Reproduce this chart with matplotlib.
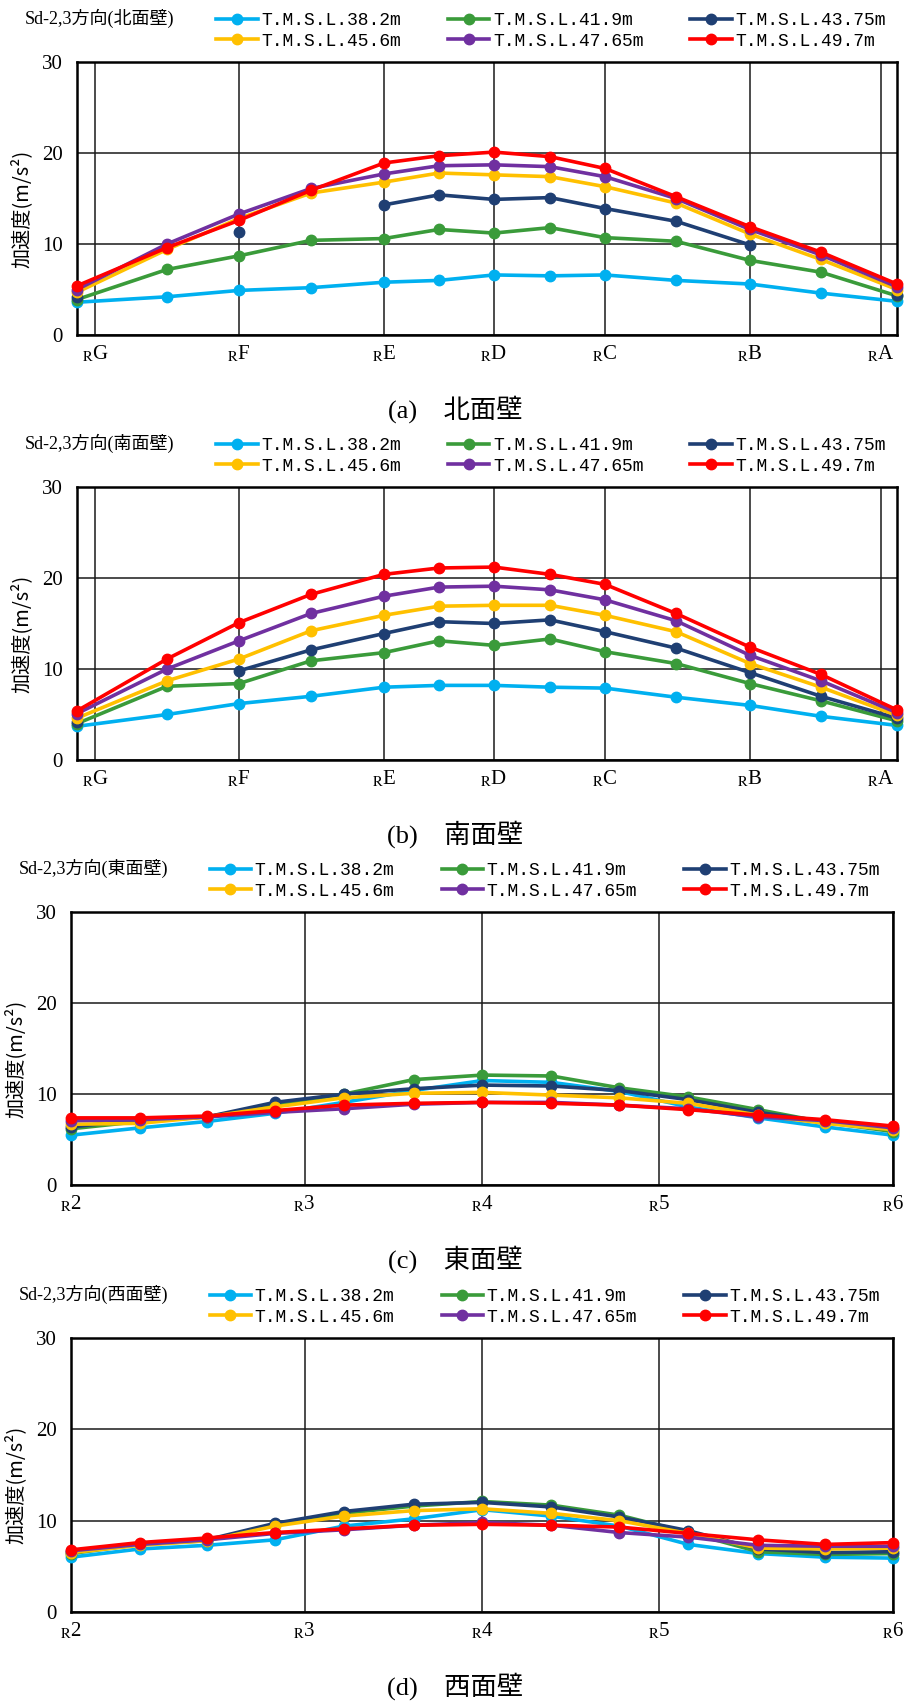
import numpy as np
import matplotlib.pyplot as plt

nan = np.nan

plt.rcParams['font.family'] = ['Liberation Serif', 'Noto Sans CJK JP', 'DejaVu Sans']
plt.rcParams['mathtext.fontset'] = 'stix'

series_names = ['T.M.S.L.38.2m', 'T.M.S.L.41.9m', 'T.M.S.L.43.75m',
                'T.M.S.L.45.6m', 'T.M.S.L.47.65m', 'T.M.S.L.49.7m']
colors = ['#00B0F0', '#3A9B3A', '#1F3F73', '#FFC000', '#7030A0', '#FF0000']

# measuring points along the wall (north/south walls: G..A, east/west walls: 2..6)
pos_ns = [0, 9.0, 16.2, 23.4, 30.7, 36.2, 41.7, 47.3, 52.8, 59.9, 67.3, 74.4, 82.0]
grid_ns = [1.83, 16.2, 30.7, 41.7, 52.8, 67.3, 80.4]
lab_ns = ['G', 'F', 'E', 'D', 'C', 'B', 'A']

pos_ew = [0, 6.9, 13.6, 20.4, 27.3, 34.3, 41.2, 48.1, 54.9, 61.8, 68.8, 75.5, 82.3]
grid_ew = [0, 23.4, 41.2, 58.9, 82.3]
lab_ew = ['2', '3', '4', '5', '6']

# acceleration (m/s2), one row per elevation
north = [
    [3.6, 4.2, 4.9, 5.2, 5.8, 6.0, 6.6, 6.5, 6.6, 6.0, 5.6, 4.6, 3.7],
    [3.9, 7.2, 8.7, 10.4, 10.6, 11.6, 11.2, 11.8, 10.7, 10.3, 8.2, 6.9, 4.3],
    [4.2, nan, 11.3, nan, 14.3, 15.4, 14.9, 15.1, 13.9, 12.5, 9.9, nan, 4.4],
    [4.7, 9.4, 12.8, 15.6, 16.8, 17.8, 17.6, 17.4, 16.3, 14.5, 11.1, 8.3, 5.0],
    [5.0, 10.0, 13.3, 16.1, 17.7, 18.6, 18.7, 18.5, 17.4, 15.0, 11.6, 8.8, 5.3],
    [5.4, 9.6, 12.6, 15.9, 18.9, 19.7, 20.1, 19.6, 18.3, 15.2, 11.9, 9.1, 5.6],
]
south = [
    [3.7, 5.0, 6.2, 7.0, 8.0, 8.2, 8.2, 8.0, 7.9, 6.9, 6.0, 4.8, 3.8],
    [4.0, 8.1, 8.4, 10.9, 11.8, 13.1, 12.6, 13.3, 11.9, 10.6, 8.4, 6.5, 4.3],
    [4.2, nan, 9.8, 12.1, 13.9, 15.2, 15.0, 15.4, 14.1, 12.3, 9.6, 7.0, 4.6],
    [4.6, 8.7, 11.1, 14.2, 15.9, 16.9, 17.0, 17.0, 15.9, 14.1, 10.6, 8.0, 4.9],
    [5.1, 10.0, 13.1, 16.1, 18.0, 19.0, 19.1, 18.7, 17.6, 15.3, 11.5, 8.7, 5.2],
    [5.4, 11.1, 15.1, 18.2, 20.4, 21.1, 21.2, 20.4, 19.3, 16.1, 12.4, 9.4, 5.5],
]
east = [
    [5.5, 6.3, 7.0, 7.9, 9.1, 10.4, 11.5, 11.3, 10.3, 8.6, 7.4, 6.4, 5.5],
    [6.2, 7.0, 7.5, 8.8, 10.0, 11.6, 12.1, 12.0, 10.7, 9.7, 8.3, 6.9, 5.9],
    [6.4, 7.2, 7.5, 9.1, 10.0, 10.6, 11.0, 10.9, 10.4, 9.4, 8.0, 7.0, 6.2],
    [6.7, 6.8, 7.5, 8.6, 9.6, 10.1, 10.2, 9.9, 9.6, 9.0, 7.7, 6.8, 6.1],
    [7.1, 7.2, 7.5, 8.0, 8.4, 8.9, 9.1, 9.1, 8.8, 8.4, 7.5, 7.1, 6.3],
    [7.4, 7.4, 7.6, 8.2, 8.8, 9.0, 9.1, 9.0, 8.8, 8.3, 7.7, 7.2, 6.5],
]
west = [
    [6.0, 6.9, 7.3, 7.9, 9.4, 10.2, 11.2, 10.5, 9.4, 7.4, 6.4, 6.0, 5.9],
    [6.4, 7.4, 7.8, 9.6, 10.8, 11.6, 12.1, 11.7, 10.6, 8.7, 6.6, 6.3, 6.4],
    [6.6, 7.5, 7.9, 9.7, 11.0, 11.8, 12.0, 11.5, 10.4, 8.9, 6.9, 6.5, 6.6],
    [6.5, 7.3, 7.8, 9.4, 10.5, 11.1, 11.3, 10.8, 10.0, 8.6, 7.0, 6.9, 7.0],
    [6.7, 7.4, 7.9, 8.6, 9.0, 9.5, 9.8, 9.5, 8.7, 8.2, 7.3, 7.2, 7.2],
    [6.8, 7.6, 8.1, 8.7, 9.1, 9.5, 9.6, 9.5, 9.3, 8.6, 7.9, 7.4, 7.6],
]

panels = [
    ('北面壁', '(a)', pos_ns, grid_ns, lab_ns, north, (77, 62, 897, 335)),
    ('南面壁', '(b)', pos_ns, grid_ns, lab_ns, south, (77, 487, 897, 760)),
    ('東面壁', '(c)', pos_ew, grid_ew, lab_ew, east, (70.7, 912, 893.3, 1185.3)),
    ('西面壁', '(d)', pos_ew, grid_ew, lab_ew, west, (70.7, 1338, 893.3, 1612)),
]

W, H = 907, 1702
fig = plt.figure(figsize=(W / 100, H / 100), dpi=100)

for wall, tag, pos, grid, labs, data, (l, t, r, b) in panels:
    ax = fig.add_axes([l / W, 1 - b / H, (r - l) / W, (b - t) / H])
    for vals, c, name in zip(data, colors, series_names):
        ax.plot(pos, vals, '-o', color=c, lw=2.6, ms=7.5, label=name,
                clip_on=False, zorder=3)
    ax.set_xlim(pos[0], pos[-1])
    ax.set_ylim(0, 30)
    ax.set_yticks([0, 10, 20, 30])
    ax.set_xticks(grid, [r'$_{\mathrm{R}}$' + s for s in labs])
    ax.grid(True, color='#1a1a1a', lw=1.1)
    ax.set_axisbelow(True)
    for sp in ax.spines.values():
        sp.set_linewidth(1.8)
        sp.set_color('black')
    ax.tick_params(axis='y', length=0, pad=10, labelsize=15)
    ax.tick_params(axis='x', length=0, pad=6, labelsize=15)

    ax.set_ylabel('加速度(m/s²)', fontsize=14.5,
                  family=['Noto Sans CJK JP', 'DejaVu Sans'])
    ax.yaxis.set_label_coords(-44 / (r - l), 0.463)

    h, lb = ax.get_legend_handles_labels()
    order = [0, 3, 1, 4, 2, 5]
    ax.legend([h[i] for i in order], [lb[i] for i in order], ncol=3,
              loc='upper left', bbox_to_anchor=((l + 139) / W, 1 - (t - 50) / H),
              bbox_transform=fig.transFigure, frameon=False,
              prop={'family': 'Liberation Mono', 'size': 13},
              handlelength=2.3, handletextpad=0.2, columnspacing=2.6,
              labelspacing=0.2, borderpad=0, borderaxespad=0)

    fig.text((l - 52) / W, 1 - (t - 44) / H, 'Sd-2,3方向(' + wall + ')',
             fontsize=13, va='center', ha='left')
    fig.text(455 / W, 1 - (b + 74) / H, tag + '\u3000' + wall,
             fontsize=19, ha='center', va='center')

fig.savefig('out.png', dpi=100)
